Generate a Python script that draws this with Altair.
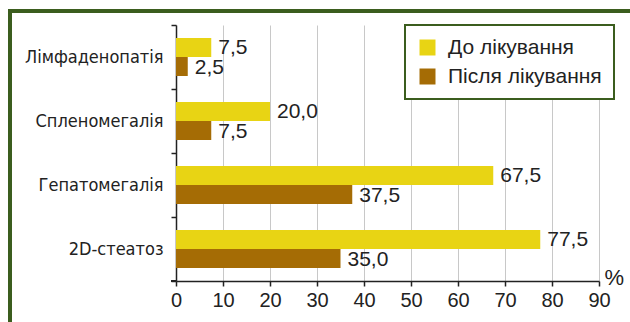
import altair as alt
import pandas as pd

# Data
categories = ["Лімфаденопатія", "Спленомегалія", "Гепатомегалія", "2D-стеатоз"]
series = ["До лікування", "Після лікування"]
before = [7.5, 20.0, 67.5, 77.5]
after = [2.5, 7.5, 37.5, 35.0]
x_ticks = [0, 10, 20, 30, 40, 50, 60, 70, 80, 90]

colors = ["#E8D414", "#A56C05"]
frame_green = "#3B5D1E"
text_color = "#222222"

rows = []
for cat, b, a in zip(categories, before, after):
    for s, v in zip(series, (b, a)):
        rows.append({"cat": cat, "series": s, "value": v,
                     "label": f"{v:.1f}".replace(".", ",")})
df = pd.DataFrame(rows)

W, H = 423, 256

y_enc = alt.Y(
    "cat:N", sort=categories, title=None,
    scale=alt.Scale(paddingInner=0, paddingOuter=0),
    axis=alt.Axis(
        tickBand="extent", ticks=True, tickSize=5, tickColor=text_color,
        domainColor=text_color, domainWidth=1.5, tickWidth=1.5,
        labelFont="Liberation Sans Narrow, DejaVu Sans Condensed, Liberation Sans",
        labelFontSize=18, labelColor=text_color, labelPadding=8, grid=False,
    ),
)
yoff_enc = alt.YOffset(
    "series:N", sort=series,
    scale=alt.Scale(paddingInner=0, paddingOuter=0.68),
)

x_enc = alt.X(
    "value:Q",
    scale=alt.Scale(domain=[0, 90], nice=False),
    axis=alt.Axis(
        values=x_ticks, format="d", grid=True, gridColor="#C8C8C8", gridWidth=1,
        tickSize=5, tickColor=text_color, tickWidth=1.5,
        domainColor=text_color, domainWidth=1.5,
        labelFont="Liberation Sans", labelFontSize=20, labelColor=text_color,
        labelPadding=4, labelFlush=False,
        title="%", titleFont="Liberation Sans", titleFontSize=22,
        titleFontWeight="normal", titleColor=text_color,
        titleAnchor="end", titleAlign="left", titleBaseline="middle",
        titleX=428, titleY=-4,
    ),
)

bars = alt.Chart(df).mark_bar(size=19).encode(
    x=x_enc,
    y=y_enc,
    yOffset=yoff_enc,
    color=alt.Color(
        "series:N", sort=series,
        scale=alt.Scale(domain=series, range=colors),
        legend=alt.Legend(
            title=None, orient="none", legendX=229, legendY=0,
            symbolType="square", symbolSize=256, symbolStrokeWidth=0,
            labelFont="Liberation Sans", labelFontSize=21, labelColor=text_color,
            labelOffset=10, rowPadding=7, padding=12,
            strokeColor=frame_green, fillColor="white",
        ),
    ),
)

labels = alt.Chart(df).mark_text(
    align="left", baseline="middle", dx=7, dy=1,
    font="Liberation Sans", fontSize=21, color=text_color,
).encode(
    x="value:Q",
    y=alt.Y("cat:N", sort=categories),
    yOffset=yoff_enc,
    text="label:N",
)

# Tick closing the category axis at its lower end
end_tick = alt.Chart(df).mark_rule(color=text_color, strokeWidth=1.5).encode(
    x=alt.value(-5), x2=alt.value(0), y=alt.value(H)
)

# Outer frame around the figure
frame = alt.Chart(df).mark_rect(
    fill=None, stroke=frame_green, strokeWidth=4, clip=False
).encode(
    x=alt.value(-166), x2=alt.value(470), y=alt.value(-14), y2=alt.value(320)
)

chart = alt.layer(frame, bars, labels, end_tick).properties(
    width=W, height=H,
    autosize=alt.AutoSizeParams(type="none"),
    padding={"left": 176, "top": 25, "right": 31, "bottom": 41},
    background="white",
).configure_view(stroke=None).configure_legend(strokeWidth=2)

chart.save("out.html", embed_options={"renderer": "svg", "actions": False})
